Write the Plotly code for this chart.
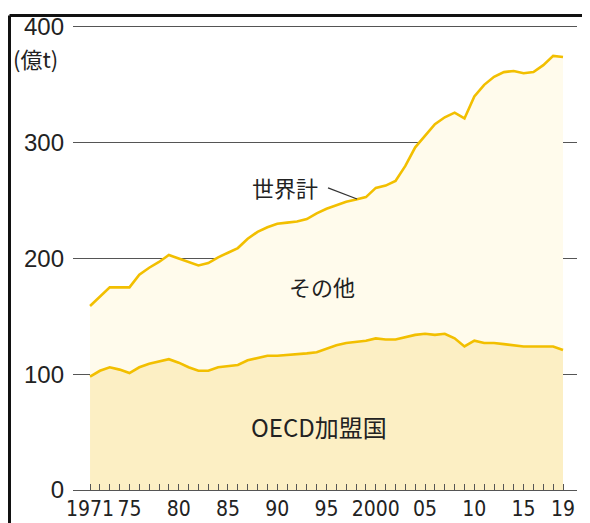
import plotly.graph_objects as go

years = list(range(1971, 2020))

world = [159, 167, 175, 175, 175, 186, 192, 197, 203, 200,
         197, 194, 196, 201, 205, 209, 217, 223, 227, 230,
         231, 232, 234, 239, 243, 246, 249, 251, 253, 261,
         263, 267, 280, 296, 306, 316, 322, 326, 321, 340,
         350, 357, 361, 362, 360, 361, 367, 375, 374]

oecd = [98, 103, 106, 104, 101, 106, 109, 111, 113, 110,
        106, 103, 103, 106, 107, 108, 112, 114, 116, 116,
        116.5, 117, 118, 119, 122, 125, 127, 128, 129, 131,
        130, 130, 132, 134, 135, 134, 135, 131, 124, 129,
        127, 127, 126, 125, 124, 124, 124, 124, 121]

x_label_years = {1971: "1971", 1975: "75", 1980: "80", 1985: "85", 1990: "90",
                 1995: "95", 2000: "2000", 2005: "05", 2010: "10", 2015: "15", 2019: "19"}
tick_text = [x_label_years.get(y, "") for y in years]

y_ticks = [0, 100, 200, 300, 400]

line_color = "#F2BF00"
oecd_fill = "#FCEFC4"
other_fill = "#FFFBEC"
grid_color = "#555555"

fig = go.Figure()
fig.add_trace(go.Scatter(x=years, y=oecd, mode="lines", fill="tozeroy",
                         fillcolor=oecd_fill, line=dict(color=line_color, width=2.6),
                         hoverinfo="skip", showlegend=False))
fig.add_trace(go.Scatter(x=years, y=world, mode="lines", fill="tonexty",
                         fillcolor=other_fill, line=dict(color=line_color, width=2.6),
                         hoverinfo="skip", showlegend=False))

jp_font = "Noto Sans CJK JP"
fig.add_annotation(x=1990.8, y=262, text="世界計", showarrow=False,
                   font=dict(family=jp_font, size=22, color="#222"))
fig.add_annotation(x=1994.5, y=176, text="その他", showarrow=False,
                   font=dict(family=jp_font, size=22, color="#222"))
fig.add_annotation(x=1994.2, y=55, text="OECD加盟国", showarrow=False,
                   font=dict(family=jp_font, size=24, color="#222"))
fig.add_shape(type="line", x0=1995.15, y0=261, x1=1998.1, y1=251.4,
              line=dict(color="#333", width=1.2))

# unit label
fig.add_annotation(xref="paper", yref="paper", x=-0.123, y=0.93, xanchor="left",
                   yanchor="middle", text="(億t)", showarrow=False,
                   font=dict(family=jp_font, size=22, color="#222"))

# frame (left and top edges)
fig.add_shape(type="line", xref="paper", yref="paper", x0=-0.126, x1=1.1,
              y0=1.0204, y1=1.0204, line=dict(color="#111", width=3))
fig.add_shape(type="line", xref="paper", yref="paper", x0=-0.126, x1=-0.126,
              y0=1.0204, y1=-0.1, line=dict(color="#111", width=3))

fig.update_layout(
    width=582, height=515,
    margin=dict(l=65, r=13, t=17, b=33),
    paper_bgcolor="white", plot_bgcolor="white",
    xaxis=dict(range=[1969.27, 2020.42], tickmode="array", tickvals=years,
               ticktext=tick_text, ticks="inside", ticklen=6, tickwidth=1,
               tickcolor=grid_color, showline=True, linecolor=grid_color,
               linewidth=1.2, showgrid=False, zeroline=False, automargin=False,
               tickfont=dict(family="Liberation Sans Narrow, DejaVu Sans Condensed, sans-serif",
                             size=21, color="#222")),
    yaxis=dict(range=[0, 401.7], tickmode="array", tickvals=y_ticks,
               showgrid=True, gridcolor=grid_color, gridwidth=1.2,
               zeroline=False, showline=False, ticks="", automargin=False,
               ticklabelstandoff=8,
               tickfont=dict(family="Liberation Sans, Arial, sans-serif",
                             size=24, color="#222")),
)

fig.write_html("out.html")
